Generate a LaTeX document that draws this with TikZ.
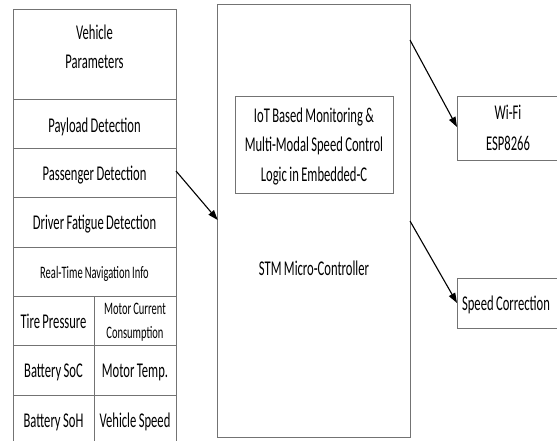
\documentclass[tikz,border=0pt]{standalone}
\usepackage{fontspec}
\setmainfont[FakeStretch=0.6,WordSpace=0.85]{Carlito}
\usetikzlibrary{arrows.meta}
\begin{document}
\begin{tikzpicture}[x=1pt,y=-1pt,
  box/.style={draw=black!55, line width=0.8pt},
  lbl/.style={font=\fontsize{21}{29}\selectfont, inner sep=0pt, anchor=base},
  slbl/.style={font=\fontsize{17.5}{24}\selectfont, inner sep=0pt, anchor=base},
  arr/.style={draw=black, line width=1.1pt, -{Triangle[length=10pt,width=7pt]}}]
\useasboundingbox (0,0) rectangle (557,441);
% left column
\draw[box] (13,441) -- (13,9.5) -- (176,9.5) -- (176,441);
\foreach \yy in {99,148,197,247,296,345,395} \draw[box] (13,\yy) -- (176,\yy);
\draw[box] (94,296) -- (94,441);
\node[lbl] (vp) at (94.5,40) {Vehicle};
\node[lbl] (vp2) at (94.5,69) {Parameters};
\node[lbl] (pl) at (94.5,133) {Payload Detection};
\node[lbl] (pd) at (94.5,180) {Passenger Detection};
\node[lbl] (df) at (94.5,229) {Driver Fatigue Detection};
\node[slbl] (rt) at (94.5,278) {Real-Time Navigation Info};
\node[lbl] (tp) at (53.5,328) {Tire Pressure};
\node[slbl] (mc) at (135,314) {Motor Current};
\node[slbl] (mc2) at (135,338) {Consumption};
\node[lbl] (bsoc) at (53.5,377) {Battery SoC};
\node[lbl] (mt) at (135,377) {Motor Temp.};
\node[lbl] (bsoh) at (53.5,427) {Battery SoH};
\node[lbl] (vs) at (135,427) {Vehicle Speed};
\coordinate (pdR) at (176,171);
% centre
\draw[box] (217.7,4.7) rectangle (410,437.7);
\coordinate (stmW) at (217.7,220);
\coordinate (stmE1) at (410,40);
\coordinate (stmE2) at (410,221);
\node[lbl] (stml) at (314,275) {STM Micro-Controller};
\draw[box] (235,96.7) rectangle (393,193.3);
\node[lbl] (iot1) at (314,123) {IoT Based Monitoring \&};
\node[lbl] (iot2) at (314,152) {Multi-Modal Speed Control};
\node[lbl] (iot3) at (314,182) {Logic in Embedded-C};
% right
\draw[box] (558,96.7) -- (457,96.7) -- (457,160) -- (558,160);
\node[lbl] (wifi) at (508,120) {Wi-Fi};
\node[lbl] (esp) at (508,151) {ESP8266};
\draw[box] (558,278) -- (457,278) -- (457,328) -- (558,328);
\node[lbl] (sc) at (506,310) {Speed Correction};
\coordinate (wifiL) at (457,127);
\coordinate (scL) at (457,303);
% arrows
\draw[arr] (pdR) -- (stmW);
\draw[arr] (stmE1) -- (wifiL);
\draw[arr] (stmE2) -- (scL);
\end{tikzpicture}
\end{document}
